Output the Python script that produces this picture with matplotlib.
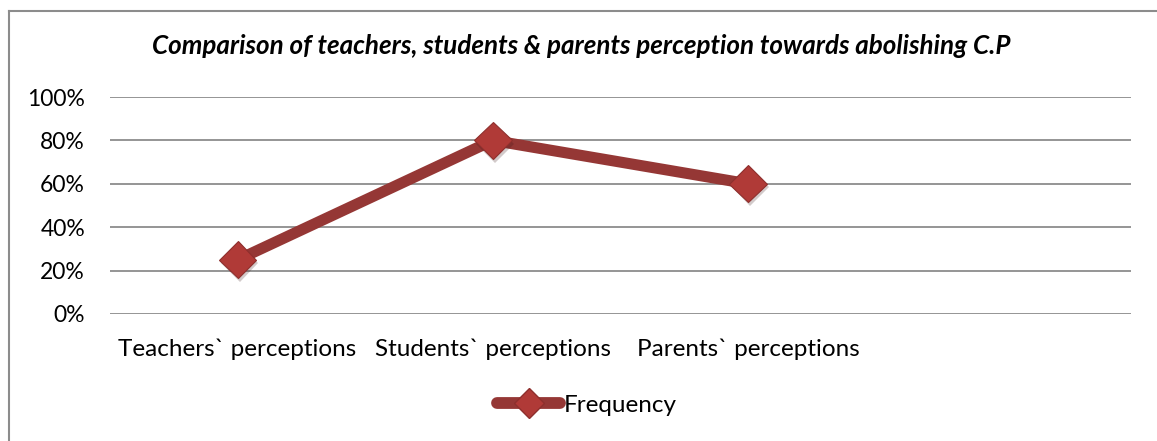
import matplotlib
matplotlib.use("Agg")
import matplotlib.pyplot as plt
from matplotlib.lines import Line2D
import matplotlib.patheffects as pe

categories = ["Teachers` perceptions", "Students` perceptions", "Parents` perceptions", ""]
series_name = "Frequency"
values = [25, 80, 60]
yticks = [0, 20, 40, 60, 80, 100]
ytick_labels = ["0%", "20%", "40%", "60%", "80%", "100%"]
title = "Comparison of teachers, students & parents perception towards abolishing C.P"

plt.rcParams['font.family'] = ['Lato', 'DejaVu Sans']

W, H = 1157, 441
fig = plt.figure(figsize=(W / 100, H / 100), dpi=100)
ax = fig.add_axes([110 / W, (H - 314) / H, (1131 - 110) / W, (314 - 97) / H])

line_color = "#953735"
marker_color = "#B03A37"

for y in yticks:
    ax.axhline(y, color="#8C8C8C", lw=1.3, zorder=1)

x = list(range(len(values)))
ax.plot(x, values, color=line_color, lw=8, solid_capstyle="round", zorder=3)
ax.plot(x, values, ls="none", marker="D", markersize=19, markerfacecolor=marker_color,
        markeredgecolor="#8E2F2D", markeredgewidth=0.8, zorder=4,
        path_effects=[pe.SimplePatchShadow(offset=(1.5, -2.5), alpha=0.22), pe.Normal()])

ax.set_xlim(-0.5, len(categories) - 0.5)
ax.set_ylim(0, 100)
ax.set_yticks(yticks)
ax.set_yticklabels(ytick_labels, fontsize=16.5)
ax.set_xticks(range(len(categories)))
ax.set_xticklabels(categories, fontsize=17.5)
ax.tick_params(axis="both", length=0, colors="black")
ax.tick_params(axis="y", pad=18)
ax.tick_params(axis="x", pad=18)
for s in ax.spines.values():
    s.set_visible(False)

fig.text(581 / W, 1 - 46 / H, title, ha="center", va="center", fontsize=18.7,
         fontweight="bold", fontstyle="italic")

handle = Line2D([0], [0], color=line_color, lw=8.5, marker="D", markersize=15,
                markerfacecolor=marker_color, markeredgecolor="#8E2F2D", solid_capstyle="round")
fig.legend([handle], [series_name], loc="center", bbox_to_anchor=(587 / W, 1 - 405 / H),
           frameon=False, fontsize=17.5, handlelength=2.6, handletextpad=0.15)

# outer chart border (left and top visible)
fig.add_artist(Line2D([9 / W, 9 / W], [0, 1 - 11 / H], color="#8C8C8C", lw=1.5))
fig.add_artist(Line2D([9 / W, 1], [1 - 11 / H, 1 - 11 / H], color="#8C8C8C", lw=1.5))

fig.savefig("out.png", dpi=100, facecolor="white")
